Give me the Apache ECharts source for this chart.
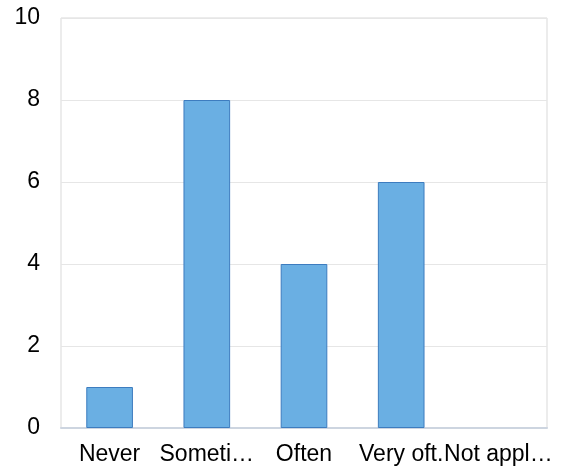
<!DOCTYPE html>
<html><head><meta charset="utf-8">
<script src="https://cdn.jsdelivr.net/npm/echarts@6/dist/echarts.min.js"></script>
<style>html,body{margin:0;padding:0;background:#fff}#c{width:563px;height:468px}</style>
</head><body><div id="c"></div>
<script>
const categories = ["Never", "Someti…", "Often", "Very oft.", "Not appl…"];
const values = [1, 8, 4, 6, 0];
const yTicks = {min: 0, max: 10, interval: 2};

const chart = echarts.init(document.getElementById('c'), null, {renderer: 'canvas'});
chart.setOption({
  animation: false,
  grid: {left: 61, right: 16, top: 18, bottom: 40, show: true, borderColor: '#d9d9d9', borderWidth: 1, backgroundColor: 'transparent'},
  xAxis: {
    type: 'category', data: categories,
    axisLine: {show: true, lineStyle: {color: '#cdd5e0', width: 2}},
    axisTick: {show: false},
    axisLabel: {interval: 0, color: '#000', fontSize: 23, fontFamily: 'Liberation Sans, Arial, sans-serif', margin: 15}
  },
  yAxis: {
    type: 'value', min: yTicks.min, max: yTicks.max, interval: yTicks.interval,
    axisLine: {show: false}, axisTick: {show: false},
    splitLine: {lineStyle: {color: '#e6e6e6', width: 1}},
    axisLabel: {color: '#000', fontSize: 23, fontFamily: 'Liberation Sans, Arial, sans-serif', margin: 21, padding: [4, 0, 0, 0]}
  },
  series: [{
    type: 'bar', barWidth: '48%',
    data: values.map(v => ({value: v, itemStyle: v === 0 ? {borderWidth: 0, opacity: 0} : {}})),
    itemStyle: {color: '#6aafe3', borderColor: '#3d7cbf', borderWidth: 1}
  }]
});
</script></body></html>
